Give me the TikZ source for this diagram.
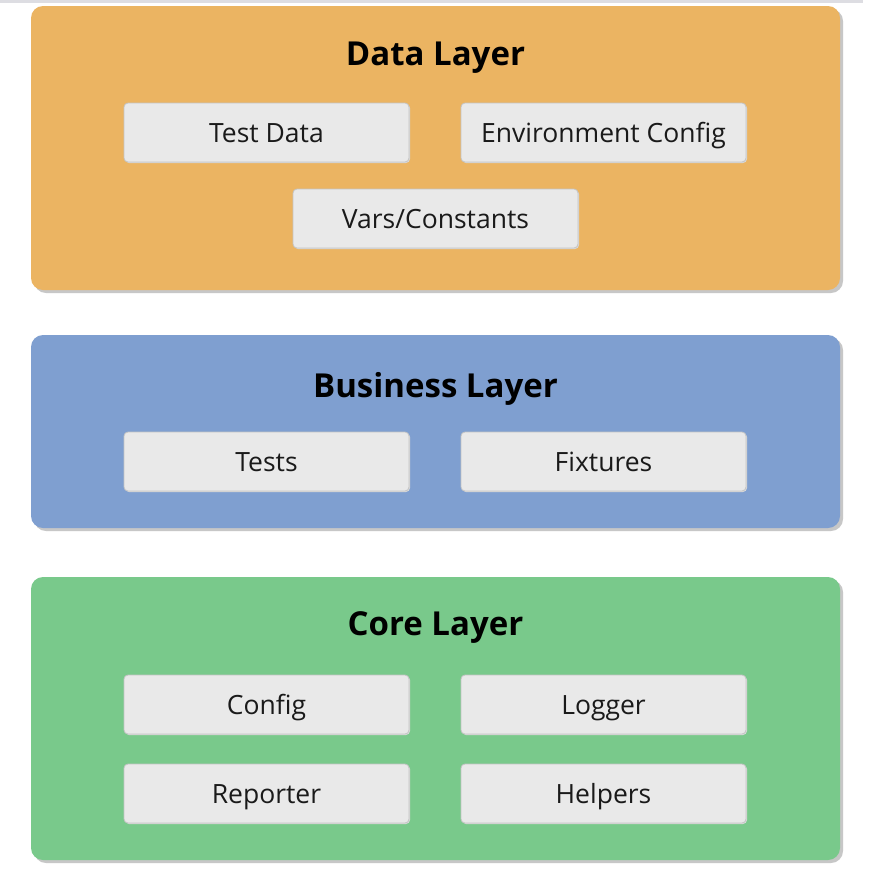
\documentclass[tikz,border=0pt]{standalone}
\usepackage{fontspec}
\setmainfont{Open Sans}
\usetikzlibrary{shadows}
\definecolor{dataC}{HTML}{EBB462}
\definecolor{busC}{HTML}{7F9FD0}
\definecolor{coreC}{HTML}{79C98B}
\definecolor{itemC}{HTML}{E9E9E9}
\definecolor{itemB}{HTML}{C4C4C4}
\definecolor{txtC}{HTML}{1A1A1A}
\definecolor{topC}{HTML}{DDDDE2}
\tikzset{
  layer/.style={rounded corners=12pt, minimum width=809pt, inner sep=0pt,
    drop shadow={shadow xshift=3pt, shadow yshift=-3pt, fill=black!22, opacity=1}},
  item/.style={rounded corners=4pt, minimum width=285pt, minimum height=59pt,
    fill=itemC, draw=itemB, line width=0.8pt, inner sep=0pt,
    font=\fontsize{26.5pt}{30pt}\selectfont, text=txtC,
    text height=19pt, text depth=0pt,
    drop shadow={shadow xshift=1pt, shadow yshift=-1pt, fill=black!15, opacity=1}},
  title/.style={anchor=base, inner sep=0pt, text=black,
    font=\fontsize{33pt}{37pt}\selectfont\bfseries}
}
\begin{document}
\begin{tikzpicture}[x=1pt,y=-1pt]
\useasboundingbox (0,0) rectangle (873,873);
\fill[white] (0,0) rectangle (873,873);
\fill[topC] (0,0) rectangle (863,2.5);
% layers
\node[layer, fill=dataC, minimum height=284pt] (data) at (435.5,148) {};
\node[layer, fill=busC, minimum height=193pt] (bus) at (435.5,431.5) {};
\node[layer, fill=coreC, minimum height=283pt] (core) at (435.5,718.5) {};
% titles
\node[title] (dataT) at (435.5,65) {Data Layer};
\node[title] (busT) at (435.5,397.5) {Business Layer};
\node[title] (coreT) at (435.5,635.5) {Core Layer};
% data items
\node[item] (testdata) at (266.5,132.5) {Test Data};
\node[item] (envcfg) at (603.5,132.5) {Environment Config};
\node[item] (vars) at (435.5,218.5) {Vars/Constants};
% business items
\node[item] (tests) at (266.5,461.5) {Tests};
\node[item] (fixtures) at (603.5,461.5) {Fixtures};
% core items
\node[item] (config) at (266.5,704.5) {Config};
\node[item] (logger) at (603.5,704.5) {Logger};
\node[item] (reporter) at (266.5,793.5) {Reporter};
\node[item] (helpers) at (603.5,793.5) {Helpers};
\end{tikzpicture}
\end{document}
